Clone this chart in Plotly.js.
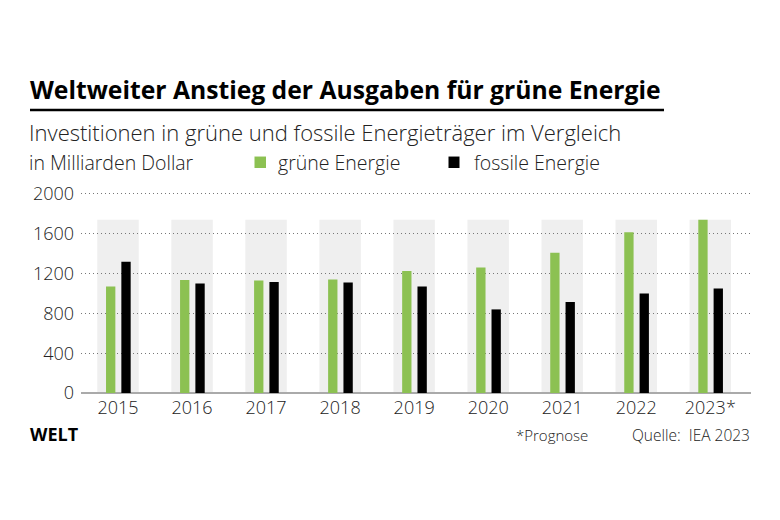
<!DOCTYPE html>
<html>
<head>
<meta charset="utf-8">
<script src="https://cdn.plot.ly/plotly-3.0.1.min.js"></script>
<style>html,body{margin:0;padding:0;background:#fff;}#chart{width:780px;height:520px;}</style>
</head>
<body>
<div id="chart"></div>
<script>
const jahre = ["2015","2016","2017","2018","2019","2020","2021","2022","2023*"];
const gruen = [1070, 1135, 1130, 1140, 1225, 1260, 1410, 1615, 1740];
const fossil = [1320, 1100, 1115, 1110, 1070, 840, 915, 1000, 1050];
const yTicks = [0, 400, 800, 1200, 1600, 2000];

const FONT = "'Open Sans', Lato, sans-serif";
const W = 780, H = 520;
const L = 81, R = 751, T = 184, B = 393.3;
const Y_MAX = 2100;
const px = x => (x - L) / (R - L);
const py = y => (B - y) / (B - T);

const shadeTop = Math.max(...gruen);

const traces = [
  {
    type: 'bar', name: 'grüne Energie', x: jahre, y: gruen,
    marker: {color: '#8cc152'}, width: 0.126, offset: -0.162,
    hoverinfo: 'x+y', showlegend: false
  },
  {
    type: 'bar', name: 'fossile Energie', x: jahre, y: fossil,
    marker: {color: '#000000'}, width: 0.126, offset: 0.045,
    hoverinfo: 'x+y', showlegend: false
  }
];

const shapes = jahre.map((c, i) => ({
  type: 'rect', xref: 'x', yref: 'y', layer: 'below',
  x0: i - 0.28, x1: i + 0.28, y0: 0, y1: shadeTop,
  fillcolor: '#efefef', line: {width: 0}
}));
shapes.push({type: 'line', xref: 'paper', yref: 'paper',
  x0: px(30), x1: px(664), y0: py(110), y1: py(110),
  line: {color: '#000', width: 2.5}});
shapes.push({type: 'rect', xref: 'paper', yref: 'paper',
  x0: px(254.5), x1: px(266), y0: py(168), y1: py(156.5),
  fillcolor: '#8cc152', line: {width: 0}});
shapes.push({type: 'rect', xref: 'paper', yref: 'paper',
  x0: px(448.5), x1: px(459.5), y0: py(168), y1: py(156.5),
  fillcolor: '#000', line: {width: 0}});

function ann(text, x, y, size, opts) {
  return Object.assign({
    text: text, xref: 'paper', yref: 'paper', x: px(x), y: py(y),
    xanchor: 'left', yanchor: 'middle', showarrow: false,
    font: {family: FONT, size: size, color: '#222'}
  }, opts || {});
}
const light = (s) => ({family: FONT, size: s, color: '#222', weight: 300});

const annotations = [
  ann('<b>Weltweiter Anstieg der Ausgaben für grüne Energie</b>', 28, 89, 24.7, {font: {family: FONT, size: 24.7, color: '#000'}}),
  ann('Investitionen in grüne und fossile Energieträger im Vergleich', 27, 131.5, 22, {font: light(22)}),
  ann('in Milliarden Dollar', 27, 162, 19.5, {font: light(19.5)}),
  ann('grüne Energie', 276, 162, 19.5, {font: light(19.5)}),
  ann('fossile Energie', 472, 162, 19.5, {font: light(19.5)}),
  ann('<b>WELT</b>', 28, 434, 18, {font: {family: FONT, size: 18, color: '#000'}}),
  ann('*Prognose', 590, 435, 15, {xanchor: 'right', font: light(15)}),
  ann('Quelle:  IEA 2023', 752, 435, 15.5, {xanchor: 'right', font: light(15.5)})
];

const layout = {
  width: W, height: H,
  margin: {l: L, r: W - R, t: T, b: H - B, pad: 0},
  paper_bgcolor: '#fff', plot_bgcolor: 'rgba(0,0,0,0)',
  barmode: 'overlay',
  showlegend: false,
  font: {family: FONT, color: '#222'},
  xaxis: {
    type: 'category', range: [-0.5, 8.55],
    showgrid: false, zeroline: false, showline: false,
    ticks: '', tickfont: {family: FONT, size: 18, color: '#222', weight: 300},
    ticklabelstandoff: 2, fixedrange: true
  },
  yaxis: {
    range: [0, Y_MAX], tickvals: yTicks, ticktext: yTicks.map(String),
    showgrid: true, gridcolor: '#777', gridwidth: 1, griddash: '1px,3px',
    zeroline: true, zerolinecolor: '#aaa', zerolinewidth: 1.5,
    showline: false, ticks: '',
    tickfont: {family: FONT, size: 18, color: '#222', weight: 300},
    ticklabelstandoff: 6, fixedrange: true
  },
  shapes: shapes,
  annotations: annotations
};

Plotly.newPlot('chart', traces, layout, {displayModeBar: false, staticPlot: true});
</script>
</body>
</html>
